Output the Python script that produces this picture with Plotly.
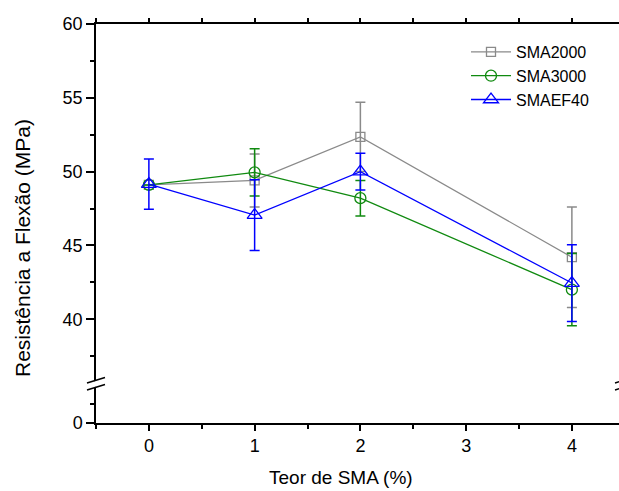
import plotly.graph_objects as go

# ---- data ----
x_vals = [0, 1, 2, 4]
sma2000 = [49.1, 49.4, 52.35, 44.2]
sma2000_err = [0, 1.8, 2.35, 3.4]
sma3000 = [49.1, 49.95, 48.2, 42.0]
sma3000_err = [0, 1.6, 1.2, 2.45]
smaef40 = [49.15, 47.05, 50.0, 42.45]
smaef40_err = [1.7, 2.4, 1.25, 2.6]

x_ticks = [0, 1, 2, 3, 4]
x_minor = [-0.5, 0.5, 1.5, 2.5, 3.5]
y_ticks = [40, 45, 50, 55, 60]
y_minor = [37.5, 42.5, 47.5, 52.5, 57.5]

# ---- layout geometry ----
W, H = 619, 491
L, R, T, B = 96, 0, 24, 68
PW, PH = W - L - R, H - T - B
BREAK_PX = 384
brk = (H - B - BREAK_PX) / PH


def px(x):
    return (x - L) / PW


def py(y):
    return (H - B - y) / PH


FONT = "Liberation Sans, Arial, sans-serif"

series = [
    ("SMA2000", sma2000, sma2000_err, "#8a8a8a", "square-open", 9),
    ("SMA3000", sma3000, sma3000_err, "#108a10", "circle-open", 11),
    ("SMAEF40", smaef40, smaef40_err, "#0000ff", "triangle-up-open", 13),
]

fig = go.Figure()
for name, vals, errs, col, sym, size in series:
    fig.add_trace(go.Scatter(
        x=x_vals, y=vals, name=name, mode="lines+markers",
        line=dict(color=col, width=1.3),
        marker=dict(symbol=sym, size=size, color=col, line=dict(color=col, width=1.3)),
        error_y=dict(type="data", array=errs, visible=True, color=col,
                     thickness=1.5, width=5),
        xaxis="x", yaxis="y",
    ))

# empty helper traces so the lower y segment and the top x axis exist
fig.add_trace(go.Scatter(x=[None], y=[None], xaxis="x", yaxis="y2",
                         showlegend=False, hoverinfo="skip"))
fig.add_trace(go.Scatter(x=[None], y=[None], xaxis="x2", yaxis="y",
                         showlegend=False, hoverinfo="skip"))

axis_common = dict(showline=True, linecolor="black", linewidth=1.5,
                   showgrid=False, zeroline=False, ticks="outside",
                   tickcolor="black", tickwidth=1.5,
                   tickfont=dict(family=FONT, size=18, color="black"))

xr = [-0.5, -0.5 + PW / 105.75]
ylo = 60 - (BREAK_PX - T) / 14.76

minor_style = dict(ticks="outside", ticklen=4, tickwidth=1.5, tickcolor="black")

fig.update_layout(
    width=W, height=H,
    margin=dict(l=L, r=R, t=T, b=B),
    paper_bgcolor="white", plot_bgcolor="white",
    font=dict(family=FONT, size=18, color="black"),
    showlegend=True,
    legend=dict(x=px(466), y=py(35), xanchor="left", yanchor="top",
                bgcolor="rgba(0,0,0,0)", font=dict(family=FONT, size=16),
                tracegroupgap=0, itemwidth=40),
    xaxis=dict(domain=[0, 1], range=xr, anchor="y2", tickvals=x_ticks,
               ticklen=6, minor=dict(tickvals=x_minor, **minor_style),
               **axis_common),
    xaxis2=dict(domain=[0, 1], range=xr, anchor="y", side="top",
                overlaying="x", tickvals=x_ticks, ticklen=4,
                showticklabels=False,
                minor=dict(tickvals=x_minor, **minor_style),
                **axis_common),
    yaxis=dict(domain=[brk, 1], range=[ylo, 60], anchor="x",
               tickvals=y_ticks, ticklen=8,
               minor=dict(tickvals=y_minor, **minor_style),
               **axis_common),
    yaxis2=dict(domain=[0, brk], range=[0, 5], anchor="x",
                tickvals=[0], ticklen=8,
                minor=dict(tickvals=[2.5], **minor_style),
                **axis_common),
)

# axis titles
fig.add_annotation(text="Teor de SMA (%)", xref="paper", yref="paper",
                   x=px(341), y=py(477), xanchor="center", yanchor="middle",
                   showarrow=False,
                   font=dict(family=FONT, size=19, color="black"))
fig.add_annotation(text="Resistência a Flexão (MPa)", xref="paper", yref="paper",
                   x=px(22), y=py(248), xanchor="center", yanchor="middle",
                   showarrow=False, textangle=-90,
                   font=dict(family=FONT, size=21, color="black"))


# axis break marks
def add_break(cx):
    up = [(cx - 9, 383), (cx + 9, 377.5)]
    lo = [(cx - 9, 390), (cx + 9, 384.5)]
    path = "M " + " L ".join(f"{px(a)},{py(b)}" for a, b in
                             [(cx - 9, 383.5), (cx + 9, 378), (cx + 9, 384), (cx - 9, 389.5)]) + " Z"
    fig.add_shape(type="path", path=path, xref="paper", yref="paper",
                  fillcolor="white", line=dict(width=0), layer="above")
    for seg in (up, lo):
        fig.add_shape(type="line", xref="paper", yref="paper",
                      x0=px(seg[0][0]), y0=py(seg[0][1]),
                      x1=px(seg[1][0]), y1=py(seg[1][1]),
                      line=dict(color="black", width=1.5), layer="above")


add_break(96)
add_break(624)

fig.write_html("out.html", config={"displayModeBar": False})

# remove the default page margin so the figure sits at the window origin
with open("out.html", "r", encoding="utf-8") as f:
    html = f.read()
html = html.replace("<body>", '<body style="margin:0;overflow:hidden">', 1)
with open("out.html", "w", encoding="utf-8") as f:
    f.write(html)
